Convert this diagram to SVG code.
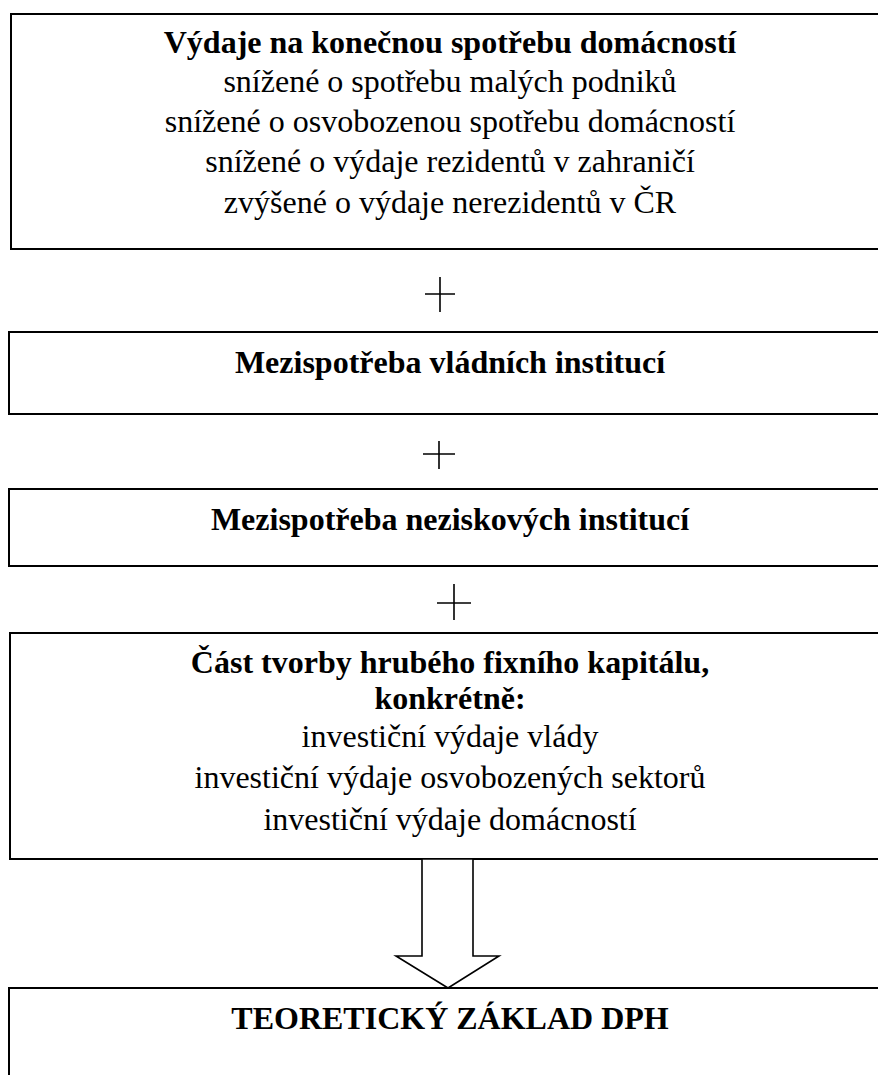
<svg xmlns="http://www.w3.org/2000/svg" width="878" height="1075" viewBox="0 0 878 1075">
  <style>
    .box { fill: #ffffff; stroke: #000000; stroke-width: 2; }
    .t { font-family: "Liberation Serif", "Times New Roman", serif; font-size: 32px; fill: #000000; text-anchor: middle; }
    .b { font-weight: bold; }
    .plus { stroke: #000000; stroke-width: 1.6; fill: none; }
    .arrow { fill: #ffffff; stroke: #000000; stroke-width: 1.6; stroke-linejoin: miter; }
  </style>
  <rect width="878" height="1075" fill="#ffffff"/>

  <g id="household-consumption">
    <rect class="box" x="11" y="14" width="890" height="235"/>
    <text class="t b" x="450" y="53">Výdaje na konečnou spotřebu domácností</text>
    <text class="t" x="450" y="92">snížené o spotřebu malých podniků</text>
    <text class="t" x="450" y="132">snížené o osvobozenou spotřebu domácností</text>
    <text class="t" x="450" y="172">snížené o výdaje rezidentů v zahraničí</text>
    <text class="t" x="450" y="213">zvýšené o výdaje nerezidentů v ČR</text>
  </g>

  <g id="government-intermediate">
    <rect class="box" x="9" y="332" width="892" height="82"/>
    <text class="t b" x="450" y="373">Mezispotřeba vládních institucí</text>
  </g>

  <g id="nonprofit-intermediate">
    <rect class="box" x="9" y="489" width="892" height="77"/>
    <text class="t b" x="450" y="530">Mezispotřeba neziskových institucí</text>
  </g>

  <g id="fixed-capital">
    <rect class="box" x="10" y="633" width="891" height="226"/>
    <text class="t b" x="450" y="673">Část tvorby hrubého fixního kapitálu,</text>
    <text class="t b" x="450" y="709">konkrétně:</text>
    <text class="t" x="450" y="747">investiční výdaje vlády</text>
    <text class="t" x="450" y="788">investiční výdaje osvobozených sektorů</text>
    <text class="t" x="450" y="830">investiční výdaje domácností</text>
  </g>

  <g id="vat-base">
    <rect class="box" x="9" y="988" width="892" height="120"/>
    <text class="t b" x="450" y="1029">TEORETICKÝ ZÁKLAD DPH</text>
  </g>

  <g id="connectors">
    <path class="plus" d="M425 294 H455 M440 277 V312"/>
    <path class="plus" d="M423 454 H455 M439 441 V469"/>
    <path class="plus" d="M437 603 H471 M454 584 V620"/>
    <polygon class="arrow" points="422,859 473,859 473,956 499,956 448,988 396,956 422,956"/>
  </g>
</svg>
